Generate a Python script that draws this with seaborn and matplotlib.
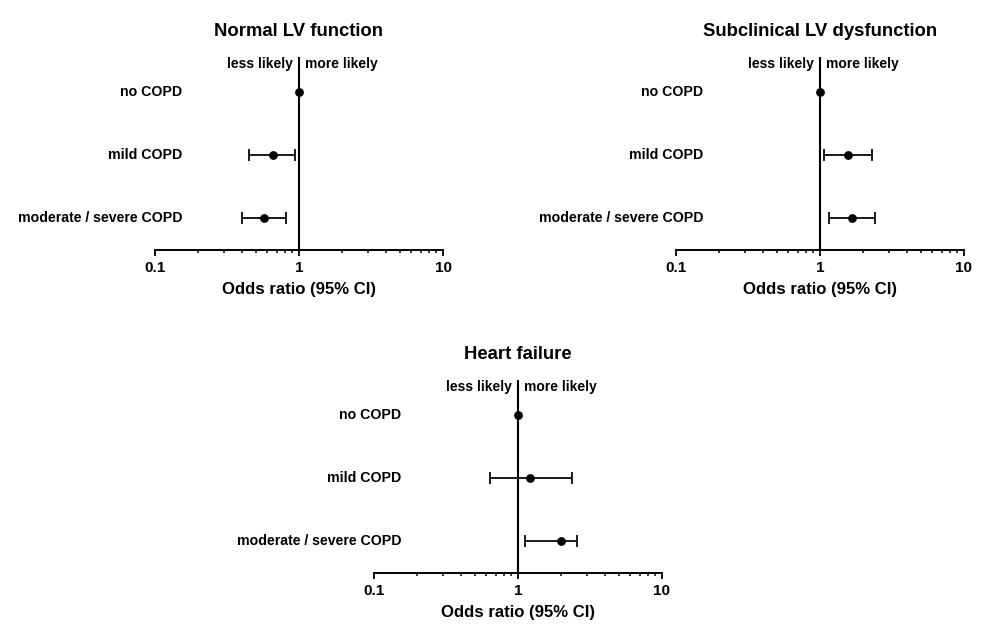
import numpy as np
import pandas as pd
import matplotlib
matplotlib.use("Agg")
import matplotlib.pyplot as plt
import matplotlib.transforms as mtransforms
from matplotlib.ticker import FixedLocator, FixedFormatter, LogLocator, NullFormatter
import seaborn as sns

# Categories (top to bottom)
categories = ["no COPD", "mild COPD", "moderate / severe COPD"]

# Odds ratios with 95% CI per outcome (reference group has no interval)
normal_or = [1.0, 0.66, 0.57]
normal_lo = [np.nan, 0.45, 0.40]
normal_hi = [np.nan, 0.94, 0.81]

subclin_or = [1.0, 1.57, 1.67]
subclin_lo = [np.nan, 1.07, 1.15]
subclin_hi = [np.nan, 2.31, 2.42]

hf_or = [1.0, 1.22, 2.00]
hf_lo = [np.nan, 0.64, 1.12]
hf_hi = [np.nan, 2.37, 2.56]

titles = ["Normal LV function", "Subclinical LV dysfunction", "Heart failure"]
tick_values = [0.1, 1, 10]
tick_labels = ["0.1", "1", "10"]

sns.set_style("ticks")
plt.rcParams["font.family"] = ["Liberation Sans", "DejaVu Sans"]
plt.rcParams["font.weight"] = "bold"
plt.rcParams["text.color"] = "black"
plt.rcParams["axes.labelcolor"] = "black"
plt.rcParams["xtick.color"] = "black"
plt.rcParams["axes.edgecolor"] = "black"

W, H = 989, 641
fig = plt.figure(figsize=(W / 100, H / 100), dpi=100)


def px_axes(left, top, width, height):
    return fig.add_axes([left / W, 1 - (top + height) / H, width / W, height / H])


def forest(ax, title, or_vals, lo_vals, hi_vals):
    df = pd.DataFrame({"cat": categories, "pos": np.arange(len(categories)),
                       "or": or_vals, "lo": lo_vals, "hi": hi_vals})
    ax.set_xscale("log")
    ax.set_xlim(0.1, 10)
    ax.set_ylim(2.51, -0.56)

    ax.axvline(1, color="black", lw=1.5, zorder=1)

    ci = df.dropna()
    ax.errorbar(ci["or"], ci["pos"],
                xerr=[ci["or"] - ci["lo"], ci["hi"] - ci["or"]],
                fmt="none", ecolor="#1a1a1a", elinewidth=1.4,
                capsize=4, capthick=1.4, zorder=2)
    sns.scatterplot(data=df, x="or", y="pos", ax=ax, color="black",
                    s=40, edgecolor="black", linewidth=0, zorder=3, legend=False)

    # category labels, right aligned a little inside the axis start
    trans = mtransforms.blended_transform_factory(ax.transAxes, ax.transData)
    for _, r in df.iterrows():
        ax.text(0.094, r["pos"], r["cat"], transform=trans, ha="right",
                va="center", fontsize=10.2, fontweight="bold", color="black")

    ax.annotate("less likely", xy=(1, -0.45), xytext=(-4.5, 0),
                textcoords="offset points", ha="right", va="center",
                fontsize=10, fontweight="bold", color="black")
    ax.annotate("more likely", xy=(1, -0.45), xytext=(4.5, 0),
                textcoords="offset points", ha="left", va="center",
                fontsize=10, fontweight="bold", color="black")

    ax.text(0.5, 1 + 26 / 193, title, transform=ax.transAxes, ha="center",
            va="center", fontsize=13.3, fontweight="bold", color="black")

    for side in ("left", "top", "right"):
        ax.spines[side].set_visible(False)
    ax.spines["bottom"].set_linewidth(1.4)
    ax.set_yticks([])
    ax.set_ylabel("")
    ax.xaxis.set_major_locator(FixedLocator(tick_values))
    ax.xaxis.set_major_formatter(FixedFormatter(tick_labels))
    ax.xaxis.set_minor_locator(LogLocator(base=10, subs=np.arange(2, 10)))
    ax.xaxis.set_minor_formatter(NullFormatter())
    ax.tick_params(axis="x", which="major", length=4, width=1.3,
                   labelsize=11, pad=4, colors="black")
    ax.tick_params(axis="x", which="minor", length=2.2, width=1.1,
                   colors="black")
    for lab in ax.get_xticklabels():
        lab.set_fontweight("bold")
    ax.set_xlabel("Odds ratio (95% CI)", fontsize=12.1, fontweight="bold",
                  labelpad=5, color="black")


ax1 = px_axes(155, 57, 288, 193)
ax2 = px_axes(676, 57, 288, 193)
ax3 = px_axes(374, 380, 288, 193)

forest(ax1, titles[0], normal_or, normal_lo, normal_hi)
forest(ax2, titles[1], subclin_or, subclin_lo, subclin_hi)
forest(ax3, titles[2], hf_or, hf_lo, hf_hi)

fig.savefig("out.png", dpi=100, facecolor="white")
